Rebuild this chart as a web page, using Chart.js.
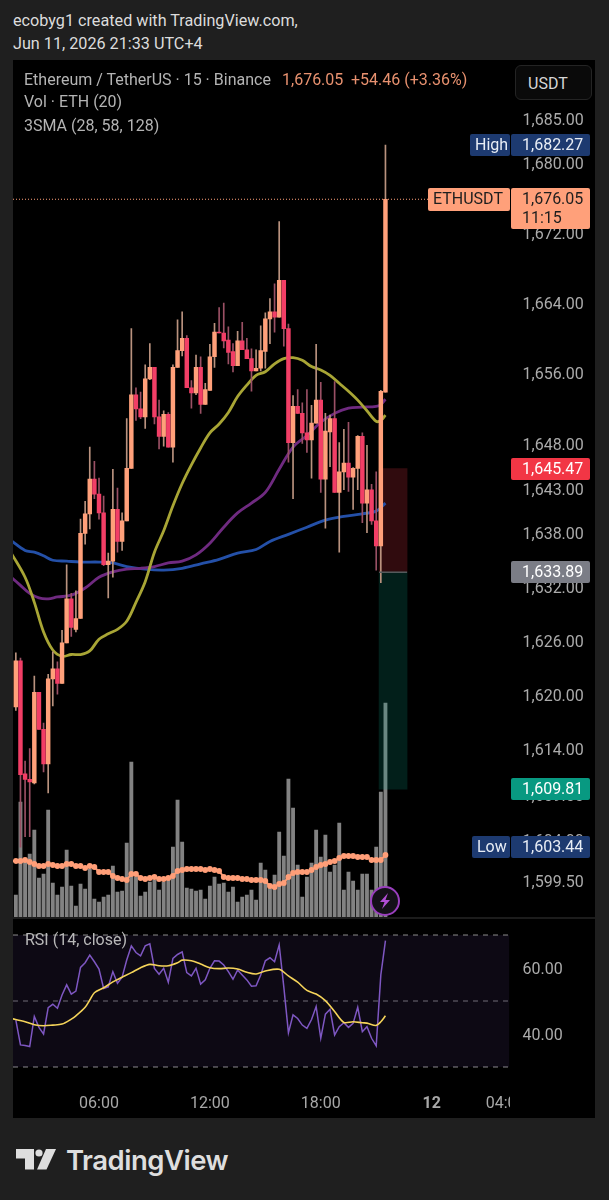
<!DOCTYPE html>
<html>
<head>
<meta charset="utf-8">
<title>ETHUSDT 15m</title>
<script src="https://cdn.jsdelivr.net/npm/chart.js"></script>
<style>
  html, body { margin: 0; padding: 0; background: #1f1f1f; }
  body { position: relative; width: 609px; height: 1200px; overflow: hidden; font-family: Roboto, sans-serif; }
  .abs { position: absolute; white-space: nowrap; }
  #panel { left: 13px; top: 60px; width: 582px; height: 1058px; background: #000; }
  #rule { left: 13px; top: 917px; width: 582px; height: 2px; background: #1c1c1c; }
  /* canvases stick out 23px, the y axes inset their plot by half a label plus padding */
  #mainWrap { left: 13px; top: 37px; width: 582px; height: 903px; }
  #rsiWrap { left: 13px; top: 897px; width: 582px; height: 221px; }
  .sub { color: #b4b4b4; font-size: 16px; line-height: 18px; }
  .caption { color: #dcdcdc; font-size: 16.2px; line-height: 20px; }
  #usdt { left: 515px; top: 65px; width: 75px; height: 33px; border: 1px solid #242424; border-radius: 6px; background: #0a0a0a;
          color: #d6d6d6; font-size: 16px; line-height: 35px; text-indent: 12px; box-sizing: content-box; }
  #bolt { left: 370px; top: 886px; width: 26px; height: 26px; border: 2px solid #9a3fbe; border-radius: 50%; background: #141018; }
  #brand { left: 66px; top: 1141px; color: #dedede; font-family: Inter, sans-serif; font-weight: 600; font-size: 27.5px; line-height: 38px; letter-spacing: -0.5px; }
  canvas { display: block; }
</style>
</head>
<body>
<div id="panel" class="abs"></div>
<div id="caption1" class="abs caption" style="left:13px;top:11px">ecobyg1 created with TradingView.com,</div>
<div id="caption2" class="abs caption" style="left:13px;top:34px">Jun 11, 2026 21:33 UTC+4</div>
<div id="rsiWrap" class="abs"><canvas id="rsiChart" width="582" height="221"></canvas></div>
<div id="rule" class="abs"></div>
<div id="mainWrap" class="abs"><canvas id="priceChart" width="582" height="903"></canvas></div>
<div class="abs sub" style="left:24px;top:71px">Ethereum / TetherUS · 15 · Binance</div>
<div class="abs sub" style="left:282px;top:71px;color:#e8916f">1,676.05</div>
<div class="abs sub" style="left:351px;top:71px;color:#e8916f">+54.46 (+3.36%)</div>
<div class="abs sub" style="left:24px;top:93px">Vol · ETH (20)</div>
<div class="abs sub" style="left:24px;top:117px">3SMA (28, 58, 128)</div>
<div id="usdt" class="abs">USDT</div>
<div id="bolt" class="abs">
  <svg width="26" height="26" viewBox="0 0 26 26"><polygon points="16,5 8,14 12.5,14 10,21 18,12 13.5,12" fill="#b24fd6"/></svg>
</div>
<div class="abs sub" style="left:25px;top:931px;color:#b8b8b8">RSI (14, close)</div>
<svg class="abs" style="left:16px;top:1149px" width="42" height="22" viewBox="0 0 42 22">
  <polygon points="0,0 18,0 18,20.5 9,20.5 9,9.5 0,9.5" fill="#dedede"/>
  <circle cx="23" cy="4" r="3.6" fill="#dedede"/>
  <polygon points="30,0 40,0 30.5,20.5 21,20.5" fill="#dedede"/>
</svg>
<div id="brand" class="abs">TradingView</div>

<script>
// time axis, candle index 0 is 01:30
const timeTickIndex = [18, 42, 66, 90, 106];
const timeTickLabels = ["06:00", "12:00", "18:00", "12", "04:00"];
const priceTicks = [1685, 1680, 1672, 1664, 1656, 1648, 1643, 1638, 1632, 1626, 1620, 1614, 1609, 1604, 1599.5];
const rsiTicks = [60, 40];
const rsiLevels = [70, 50, 30];

const opens = [1618.9,1624.0,1611.5,1610.9,1610.5,1620.5,1616.4,1612.6,1622.0,1623.1,1621.5,1626.0,1630.9,1627.5,1628.7,1638.2,1640.4,1644.3,1642.6,1640.5,1634.7,1635.1,1640.9,1637.3,1639.6,1645.5,1653.8,1652.2,1651.3,1655.6,1656.9,1651.3,1649.1,1651.6,1647.9,1656.9,1658.8,1660.2,1654.6,1654.0,1656.9,1652.7,1654.3,1658.1,1660.9,1660.8,1660.0,1658.7,1657.1,1659.9,1658.9,1657.9,1656.5,1656.8,1658.7,1662.4,1663.2,1662.6,1666.8,1661.3,1648.4,1652.5,1651.7,1649.5,1648.7,1650.6,1653.2,1644.3,1649.6,1651.1,1642.8,1645.1,1646.1,1644.5,1645.5,1649.1,1641.6,1643.1,1639.6,1636.8,1654.1];
const closes = [1624.0,1611.4,1610.9,1610.6,1620.5,1616.4,1612.6,1622.0,1623.1,1621.5,1626.0,1630.9,1627.7,1628.7,1638.2,1640.4,1644.3,1642.6,1640.5,1634.7,1635.1,1640.9,1637.3,1639.6,1645.5,1653.8,1652.2,1651.3,1655.6,1656.9,1651.3,1649.1,1651.6,1647.9,1656.9,1658.8,1660.2,1654.6,1654.0,1656.9,1652.7,1654.4,1658.1,1660.9,1660.8,1659.9,1658.6,1657.1,1659.9,1658.9,1657.9,1656.5,1656.8,1658.8,1662.4,1663.2,1662.6,1666.8,1661.3,1648.4,1652.5,1651.7,1649.5,1648.7,1650.6,1653.2,1644.3,1649.7,1651.1,1642.8,1645.1,1646.1,1644.5,1645.5,1649.1,1641.6,1643.1,1639.6,1636.8,1654.2,1676.05];
const highs = [1624.9,1624.3,1612.9,1614.3,1622.3,1620.5,1617.1,1622.5,1625.0,1623.9,1627.4,1634.7,1631.5,1631.8,1639.8,1641.8,1647.9,1646.3,1644.4,1642.4,1636.0,1645.4,1643.3,1640.5,1651.1,1661.3,1654.6,1654.1,1657.2,1659.6,1656.9,1653.2,1652.0,1651.8,1657.2,1662.3,1663.2,1660.5,1655.4,1658.3,1658.1,1655.1,1659.5,1661.9,1663.7,1664.2,1661.5,1659.6,1661.0,1662.0,1660.2,1659.0,1658.9,1661.6,1663.1,1664.7,1666.4,1673.5,1666.8,1661.8,1653.7,1654.4,1652.9,1654.4,1652.6,1659.5,1655.2,1651.7,1651.5,1655.3,1648.4,1649.9,1650.7,1645.6,1649.2,1649.5,1648.1,1643.7,1645.1,1654.3,1682.27];
const lows = [1618.5,1603.44,1604.6,1604.6,1610.4,1616.4,1611.7,1609.4,1619.0,1620.3,1621.5,1626.0,1626.7,1627.2,1628.7,1637.0,1638.7,1642.1,1639.8,1634.6,1631.0,1633.3,1636.1,1636.3,1639.6,1645.5,1650.9,1651.1,1650.0,1655.5,1650.5,1647.7,1648.0,1647.9,1646.2,1656.9,1658.2,1654.6,1652.3,1653.8,1651.7,1652.7,1654.3,1656.9,1660.8,1659.1,1657.3,1656.4,1657.1,1658.9,1657.9,1654.2,1656.5,1656.5,1656.8,1659.6,1660.9,1662.6,1659.3,1646.2,1642.1,1651.7,1648.3,1647.3,1644.4,1650.6,1642.8,1638.8,1645.7,1642.8,1636.1,1643.1,1642.9,1640.9,1643.1,1639.4,1638.3,1639.2,1634.1,1632.7,1654.1];

const volumes = [22,115,55,63,87,39,43,107,34,22,30,67,31,11,33,28,48,18,15,20,22,51,25,26,74,155,40,21,25,35,37,27,35,38,70,117,75,29,28,26,27,18,31,40,33,34,25,30,15,20,22,27,17,54,47,32,42,85,61,138,109,52,20,40,54,87,60,82,45,52,94,27,45,36,27,43,43,27,70,125,214];
const volumeAvg = [56,56,57,55,53,51,51,53,52,51,51,53,53,51,51,49,51,50,45,45,45,41,39,38,37,43,43,39,38,39,40,38,38,39,41,46,47,48,48,48,48,47,48,47,46,40,39,39,39,38,38,37,37,37,36,31,30,33,34,40,44,45,45,45,47,50,52,53,55,56,59,61,61,61,60,60,60,57,57,57,62];

const smaFastIndex = [-1,2,4,6,8,10,12,14,16,18,20,22,24,26,28,30,32,34,36,38,40,42,44,46,48,50,52,54,56,58,60,62,64,66,68,70,72,74,76,78,79,80];
const smaFast = [1636.0,1633.3,1630.5,1627.2,1625.2,1624.5,1624.7,1624.7,1625.1,1626.4,1627.0,1627.5,1628.4,1630.5,1632.8,1636.1,1638.5,1641.3,1643.8,1645.9,1647.8,1649.5,1650.5,1651.8,1653.6,1654.9,1656.0,1656.4,1657.3,1657.9,1658.0,1657.7,1657.0,1656.6,1656.0,1655.1,1654.2,1653.2,1652.0,1650.8,1650.9,1651.5];
const smaMidIndex = [-1,1,3,5,7,9,12,15,18,21,24,27,30,33,36,39,42,45,48,51,54,57,60,63,66,69,72,75,78,79,80];
const smaMid = [1633.3,1632.4,1631.5,1631.0,1630.9,1631.1,1631.3,1632.1,1633.3,1633.9,1634.2,1634.3,1634.5,1634.9,1635.1,1635.8,1637.1,1638.9,1640.5,1641.6,1642.8,1645.4,1647.9,1649.2,1650.7,1651.7,1652.3,1652.4,1652.5,1652.7,1653.3];
const smaSlowIndex = [-1,2,4,6,8,11,14,18,21,24,28,32,36,40,44,48,52,55,59,63,67,71,75,78,80];
const smaSlow = [1637.4,1636.3,1636.1,1635.7,1635.2,1635.1,1635.0,1635.0,1634.9,1634.5,1634.2,1634.1,1634.3,1634.8,1635.3,1636.0,1636.4,1637.3,1638.1,1638.9,1639.7,1640.1,1640.4,1640.7,1641.6];

const rsi = [44.2,36.7,36.5,36.2,45.3,42.0,40.0,48.0,49.0,47.8,51.8,54.9,52.1,53.0,60.2,61.6,63.9,61.9,59.7,53.8,54.3,58.9,55.4,57.2,62.4,66.7,64.7,63.7,66.7,67.3,59.9,58.1,59.9,55.7,62.9,64.1,64.9,58.6,57.6,59.9,55.1,56.4,59.9,62.2,62.1,60.9,58.9,56.6,59.4,57.9,56.4,54.5,54.6,57.9,62.2,63.1,61.9,67.0,54.3,40.4,45.8,44.7,42.7,41.7,44.4,48.3,38.7,46.0,47.5,39.7,42.2,43.4,42.0,43.2,48.1,40.7,42.2,38.7,36.4,57.9,68.3];
const rsiAvgIndex = [-1,2,4,6,8,10,12,13,15,16,17,19,21,23,25,27,29,31,33,35,36,38,40,42,44,46,48,50,52,54,57,59,61,63,65,67,69,71,73,75,76,78,79,80];
const rsiAvg = [44.7,43.7,42.8,42.5,42.7,43.0,44.5,45.5,48.1,50.3,52.5,54.0,55.8,57.2,58.6,60.1,61.1,60.7,60.7,61.6,62.4,62.2,61.2,60.1,59.8,60.0,59.7,58.7,58.2,59.1,59.6,57.6,55.7,53.2,52.1,50.1,46.8,43.5,43.7,43.4,43.3,42.6,43.7,45.5];

const lastPrice = 1676.05;
const lossLevel = 1645.47, entryLevel = 1633.89, targetLevel = 1609.81;
const boxIndex = 81.65;
const highLevel = 1682.27, lowLevel = 1603.44;

const UP = "#ffa07a", DOWN = "#f23e66", UP_WICK = "#b9927e", DOWN_WICK = "#9a5064";
const xMin = -0.615, xMax = 106.85;
const money = v => v.toLocaleString("en-US", { minimumFractionDigits: 2, maximumFractionDigits: 2 });
const idx = opens.map((_, i) => i);
const pairs = (xs, ys) => xs.map((x, i) => ({ x: x, y: ys[i] }));
const isUp = i => closes[i] >= opens[i];
const tickFont = { family: "Roboto", size: 16, lineHeight: 1.25 };

function roundBox(ctx, x, y, w, h, color, text, textColor, textX) {
  ctx.fillStyle = color;
  ctx.beginPath();
  ctx.roundRect(x, y, w, h, 2);
  ctx.fill();
  if (text) {
    ctx.fillStyle = textColor;
    ctx.fillText(text, textX, y + 11.5);
  }
}

// price labels that sit over the right hand scale
const badgePlugin = {
  id: "badges",
  afterDraw(chart) {
    const ctx = chart.ctx, sc = chart.scales.y;
    ctx.save();
    ctx.font = "16px Roboto";
    ctx.textBaseline = "middle";
    ctx.textAlign = "left";
    const at = v => Math.round(sc.getPixelForValue(v));
    // entry line of the position box
    const bx = chart.scales.x.getPixelForValue(boxIndex);
    ctx.fillStyle = "#555a5c";
    ctx.fillRect(bx - 14, at(entryLevel) - 0.5, 28, 1.5);
    const X = 498, W = 79, T = 509;
    [[highLevel, "#1d3a70", "#e8edf5"], [lossLevel, "#f23645", "#fff"], [entryLevel, "#7b7d86", "#fff"],
     [targetLevel, "#089981", "#fff"], [lowLevel, "#1d3a70", "#e8edf5"]].forEach(b => {
      const y = at(b[0]);
      roundBox(ctx, X, y - 11, W, 22, b[1], money(b[0]), b[2], T);
    });
    roundBox(ctx, 457, at(highLevel) - 11, 40, 22, "#1d3a70", "High", "#e8edf5", 462);
    roundBox(ctx, 459, at(lowLevel) - 11, 38, 22, "#1d3a70", "Low", "#e8edf5", 464);
    const ly = at(lastPrice);
    roundBox(ctx, 415, ly - 11, 82, 23, UP, "ETHUSDT", "#1e1e1e", 420);
    roundBox(ctx, X, ly - 11, W, 41, UP, money(lastPrice), "#1e1e1e", T);
    ctx.fillStyle = "#1e1e1e";
    ctx.fillText("11:15", T, ly + 19.5);
    ctx.restore();
  }
};

const priceData = {
  datasets: [
    { type: "bar", label: "wicks", order: 3, yAxisID: "y", barThickness: 1, backgroundColor: idx.map(i => isUp(i) ? UP_WICK : DOWN_WICK),
      data: idx.map(i => ({ x: i, y: [lows[i], highs[i]] })) },
    { type: "bar", label: "bodies", order: 2, yAxisID: "y", barThickness: 3.8, minBarLength: 1, backgroundColor: idx.map(i => isUp(i) ? UP : DOWN),
      data: idx.map(i => ({ x: i, y: [opens[i], closes[i]] })) },
    { type: "line", label: "last", order: 1, yAxisID: "y", borderColor: "#ffa07a", borderWidth: 1, borderDash: [1, 2], pointRadius: 0,
      data: [{ x: xMin, y: lastPrice }, { x: xMax, y: lastPrice }] },
    { type: "line", label: "SMA 28", order: 4, yAxisID: "y", borderColor: "#a8a535", borderWidth: 2.8, pointRadius: 0, tension: 0.35, data: pairs(smaFastIndex, smaFast) },
    { type: "line", label: "SMA 58", order: 5, yAxisID: "y", borderColor: "#6f2a80", borderWidth: 2.8, pointRadius: 0, tension: 0.35, data: pairs(smaMidIndex, smaMid) },
    { type: "line", label: "SMA 128", order: 6, yAxisID: "y", borderColor: "#2450a8", borderWidth: 2.8, pointRadius: 0, tension: 0.35, data: pairs(smaSlowIndex, smaSlow) },
    { type: "bar", label: "loss box", order: 7, yAxisID: "y", barThickness: 28, backgroundColor: "rgba(242,54,69,0.2)",
      data: [{ x: boxIndex, y: [entryLevel, lossLevel] }] },
    { type: "bar", label: "target box", order: 7, yAxisID: "y", barThickness: 28, backgroundColor: "rgba(8,153,129,0.2)",
      data: [{ x: boxIndex, y: [targetLevel, entryLevel] }] },
    { type: "line", label: "vol avg", order: 8, yAxisID: "yVol", borderColor: "#ff9e78", backgroundColor: "#ff9e78", borderWidth: 2, pointRadius: 2.9, pointBorderWidth: 0, data: pairs(idx, volumeAvg) },
    { type: "bar", label: "volume", order: 9, yAxisID: "yVol", barThickness: 3.2, backgroundColor: "#828282", data: pairs(idx, volumes) }
  ]
};

new Chart(document.getElementById("priceChart"), {
  type: "bar",
  data: priceData,
  plugins: [badgePlugin],
  options: {
    responsive: false, animation: false, maintainAspectRatio: false,
    events: [],
    layout: { padding: 0, autoPadding: false },
    datasets: { bar: { grouped: false, borderWidth: 0 } },
    plugins: { legend: { display: false }, tooltip: { enabled: false } },
    scales: {
      x: { type: "linear", offset: false, min: xMin, max: xMax, display: false },
      y: {
        type: "logarithmic", position: "right", min: 1595.81, max: 1692.08, bounds: "data",
        border: { display: false },
        grid: { display: false, drawTicks: false },
        afterBuildTicks(s) { s.ticks = priceTicks.map(v => ({ value: v })); },
        afterFit(s) { s.width = 85.5; },
        ticks: { autoSkip: false, padding: 13, color: "#ababab", font: tickFont, callback: v => money(v) }
      },
      yVol: { type: "linear", min: 0, max: 857, display: false, position: "left" }
    }
  }
});

// the time labels stop at the edge of the plot
const trimPlugin = {
  id: "trim",
  afterDraw(chart) {
    const a = chart.chartArea;
    chart.ctx.fillStyle = "#000";
    chart.ctx.fillRect(a.right + 0.5, a.bottom, 24, chart.height - a.bottom);
  }
};

const rsiLine = v => [{ x: xMin, y: v }, { x: xMax, y: v }];
new Chart(document.getElementById("rsiChart"), {
  type: "line",
  data: {
    datasets: [
      { label: "RSI avg", order: 1, borderColor: "#f5d45a", borderWidth: 1.6, pointRadius: 0, tension: 0.3, data: pairs(rsiAvgIndex, rsiAvg) },
      { label: "RSI", order: 2, borderColor: "#7e57c2", borderWidth: 1.5, pointRadius: 0, data: pairs(idx, rsi) },
      { label: "upper", order: 3, borderColor: "#8c8c8c", borderWidth: 1, borderDash: [5, 5], pointRadius: 0, fill: { target: { value: rsiLevels[2] } }, backgroundColor: "rgba(126,87,194,0.1)", data: rsiLine(rsiLevels[0]) },
      { label: "middle", order: 3, borderColor: "#6e6e6e", borderWidth: 1, borderDash: [5, 5], pointRadius: 0, data: rsiLine(rsiLevels[1]) },
      { label: "lower", order: 3, borderColor: "#8c8c8c", borderWidth: 1, borderDash: [5, 5], pointRadius: 0, data: rsiLine(rsiLevels[2]) }
    ]
  },
  plugins: [trimPlugin],
  options: {
    responsive: false, animation: false, maintainAspectRatio: false,
    events: [],
    layout: { padding: 0, autoPadding: false },
    plugins: { legend: { display: false }, tooltip: { enabled: false } },
    scales: {
      x: {
        type: "linear", min: xMin, max: xMax, offset: false,
        border: { display: false }, grid: { display: false, drawTicks: false },
        afterBuildTicks(s) { s.ticks = timeTickIndex.map(v => ({ value: v })); },
        afterFit(s) { s.height = 36; },
        ticks: {
          autoSkip: false, maxRotation: 0, padding: 12, color: "#a8a8a8",
          font: c => ({ family: "Roboto", size: 16, weight: c.tick && c.tick.value === 90 ? "bold" : "normal" }),
          callback: v => timeTickLabels[timeTickIndex.indexOf(v)]
        }
      },
      y: {
        type: "linear", position: "right", min: 25.45, max: 74.55,
        border: { display: false }, grid: { display: false, drawTicks: false },
        afterBuildTicks(s) { s.ticks = rsiTicks.map(v => ({ value: v })); },
        afterFit(s) { s.width = 85.5; },
        ticks: { autoSkip: false, padding: 13, labelOffset: 2, color: "#ababab", font: tickFont, callback: v => money(v) }
      }
    }
  }
});
</script>
</body>
</html>
